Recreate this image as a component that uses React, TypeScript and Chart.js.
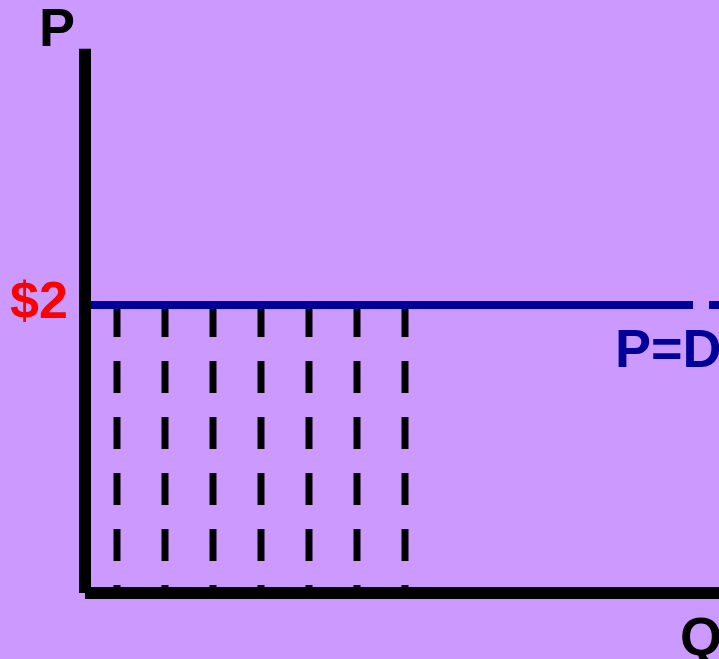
import React, { useEffect, useRef } from "react";
import { Chart, registerables } from "chart.js";
Chart.register(...registerables);

// Quantities (Q units) at which the dashed vertical lines stand
const Q_LINES = [2, 5, 8, 11, 14, 17, 20];
// Market price
const PRICE = 2;
// Axis extents in data units
const P_AXIS_TOP = 3.78;
const Q_AXIS_END = 40;
// Visible window
const X_RANGE = [-5.3125, 39.625];
const Y_RANGE = [-0.4583, 4.118];
// Text labels
const LABEL_P = "P";
const LABEL_Q = "Q";
const LABEL_PRICE = "$2";
const LABEL_DEMAND = "P=D";

const BG = "#CC99FF";
const FAMILY = '"Liberation Sans", Arial, Helvetica, sans-serif';

export default function App() {
  const ref = useRef<HTMLCanvasElement | null>(null);

  useEffect(() => {
    const canvas = ref.current;
    if (!canvas) return;

    const dashedSets = Q_LINES.map((q) => ({
      label: "q" + q,
      data: [
        { x: q, y: PRICE },
        { x: q, y: 0 },
      ],
      showLine: true,
      borderColor: "#000000",
      borderWidth: 7,
      borderDash: [32, 24],
      borderCapStyle: "butt" as const,
      pointRadius: 0,
      order: 3,
    }));

    const bgPlugin = {
      id: "bg",
      beforeDraw(chart: any) {
        const { ctx, width, height } = chart;
        ctx.save();
        ctx.fillStyle = BG;
        ctx.fillRect(0, 0, width, height);
        ctx.restore();
      },
    };

    const labelPlugin = {
      id: "labels",
      afterDatasetsDraw(chart: any) {
        const { ctx, chartArea } = chart;
        const xs = chart.scales.x;
        const ys = chart.scales.y;
        const x0 = xs.getPixelForValue(0);
        const y0 = ys.getPixelForValue(0);
        const yp = ys.getPixelForValue(PRICE);
        const yTop = ys.getPixelForValue(P_AXIS_TOP);
        ctx.save();
        ctx.textAlign = "left";
        ctx.textBaseline = "alphabetic";
        ctx.font = "bold 54px " + FAMILY;
        ctx.fillStyle = "#000000";
        ctx.fillText(LABEL_P, x0 - 46, yTop - 3);
        ctx.fillStyle = "#000099";
        ctx.fillText(LABEL_DEMAND, chartArea.right - 104, yp + 62);
        ctx.fillStyle = "#000000";
        ctx.fillText(LABEL_Q, chartArea.right - 39, y0 + 62);
        ctx.font = "bold 52px " + FAMILY;
        ctx.fillStyle = "#FF0000";
        ctx.fillText(LABEL_PRICE, x0 - 75, yp + 13);
        ctx.restore();
      },
    };

    const chart = new Chart(canvas, {
      type: "scatter",
      data: {
        datasets: [
          {
            label: "P axis",
            data: [
              { x: 0, y: P_AXIS_TOP },
              { x: 0, y: 0 },
            ],
            showLine: true,
            borderColor: "#000000",
            borderWidth: 12,
            borderCapStyle: "butt",
            pointRadius: 0,
            order: 1,
          },
          {
            label: "Q axis",
            data: [
              { x: 0, y: 0 },
              { x: Q_AXIS_END, y: 0 },
            ],
            showLine: true,
            borderColor: "#000000",
            borderWidth: 12,
            borderCapStyle: "butt",
            pointRadius: 0,
            order: 1,
          },
          {
            label: "P=D",
            data: [
              { x: 0, y: PRICE },
              { x: Q_AXIS_END, y: PRICE },
            ],
            showLine: true,
            borderColor: "#000099",
            borderWidth: 8,
            borderDash: [608, 16],
            borderCapStyle: "butt",
            pointRadius: 0,
            order: 2,
          },
          ...dashedSets,
        ],
      },
      options: {
        animation: false,
        responsive: false,
        maintainAspectRatio: false,
        devicePixelRatio: 1,
        layout: { padding: 0 },
        plugins: {
          legend: { display: false },
          tooltip: { enabled: false },
          title: { display: false },
        },
        scales: {
          x: {
            type: "linear",
            display: false,
            min: X_RANGE[0],
            max: X_RANGE[1],
          },
          y: {
            type: "linear",
            display: false,
            min: Y_RANGE[0],
            max: Y_RANGE[1],
          },
        },
      },
      plugins: [bgPlugin, labelPlugin],
    } as any);

    return () => chart.destroy();
  }, []);

  return (
    <div
      style={{
        position: "fixed",
        left: 0,
        top: 0,
        width: 719,
        height: 659,
        background: BG,
        overflow: "hidden",
      }}
    >
      <canvas ref={ref} width={719} height={659} style={{ display: "block", width: 719, height: 659 }} />
    </div>
  );
}
